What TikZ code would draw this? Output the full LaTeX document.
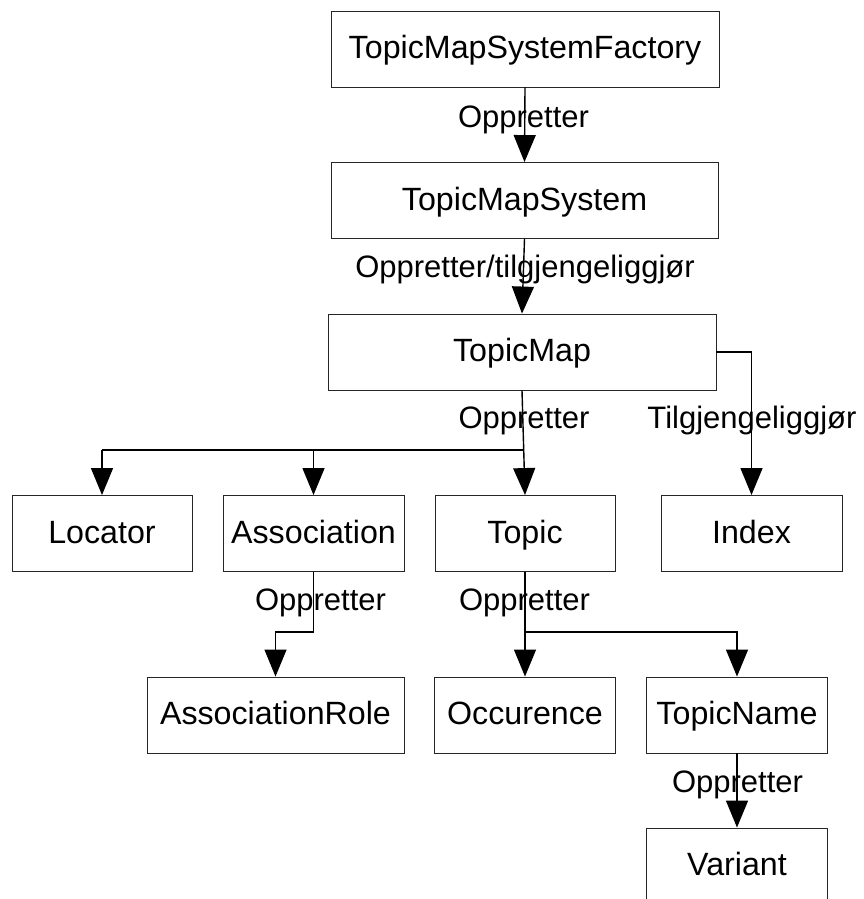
\documentclass[tikz,border=0pt]{standalone}
\usepackage{fontspec}
\setmainfont{Liberation Sans}
\usetikzlibrary{arrows.meta}

\tikzset{
  box/.style={draw=black!85, line width=0.9pt, rectangle, inner sep=0pt,
    minimum height=76pt, text height=23pt, text depth=4pt,
    font=\fontsize{32.2}{38}\selectfont},
  lbl/.style={anchor=base, inner sep=0pt, font=\fontsize{31}{37}\selectfont},
  conn/.style={line width=1.4pt, draw=black},
  arr/.style={conn, -{Triangle[width=22pt,length=27pt]}}
}

\begin{document}
\begin{tikzpicture}[x=1pt,y=-1pt]
\useasboundingbox (0,0) rectangle (864,899);
\clip (0,0) rectangle (864,899);

% boxes
\node[box, minimum width=388pt] (tmsf) at (525,49)    {TopicMapSystemFactory};
\node[box, minimum width=387pt] (tms)  at (524.5,200.5) {TopicMapSystem};
\node[box, minimum width=388pt] (tm)   at (522,352)   {TopicMap};
\node[box, minimum width=180pt] (loc)  at (102,533.5) {Locator};
\node[box, minimum width=181pt] (asc)  at (313.5,533.5) {Association};
\node[box, minimum width=180pt] (top)  at (525,533.5) {Topic};
\node[box, minimum width=181pt] (idx)  at (751.5,533.5) {Index};
\node[box, minimum width=257pt] (ar)   at (275.5,715) {AssociationRole};
\node[box, minimum width=181pt] (occ)  at (525,715)   {Occurence};
\node[box, minimum width=181pt] (tn)   at (737,715)   {TopicName};
\node[box, minimum width=181pt] (var)  at (737,866)   {Variant};

% labels
\node[lbl] (l1) at (523.5,127) {Oppretter};
\node[lbl] (l2) at (525,277)   {Oppretter/tilgjengeliggjør};
\node[lbl] (l3) at (524,428)   {Oppretter};
\node[lbl] (l4) at (752,428)   {Tilgjengeliggjør};
\node[lbl] (l5) at (320.5,610) {Oppretter};
\node[lbl] (l6) at (524.5,610) {Oppretter};
\node[lbl] (l7) at (737.5,792) {Oppretter};

% connectors
\draw[arr] (tmsf.south) -- (tms.north);
\draw[arr] (tms.south) -- (tm.north);
\draw[arr] (tm.south) -- (top.north);
\coordinate (j1) at (523.7,450);
\draw[conn] (j1) -- (loc.north |- j1);
\draw[arr] (loc.north |- j1) -- (loc.north);
\draw[arr] (asc.north |- j1) -- (asc.north);
\draw[arr] (tm.east) -| (idx.north);
\draw[arr] (asc.south) -- ++(0,60) -| (ar.north);
\draw[arr] (top.south) -- (occ.north);
\draw[arr] (top.south) -- ++(0,60) -| (tn.north);
\draw[arr] (tn.south) -- (var.north);
\end{tikzpicture}
\end{document}
